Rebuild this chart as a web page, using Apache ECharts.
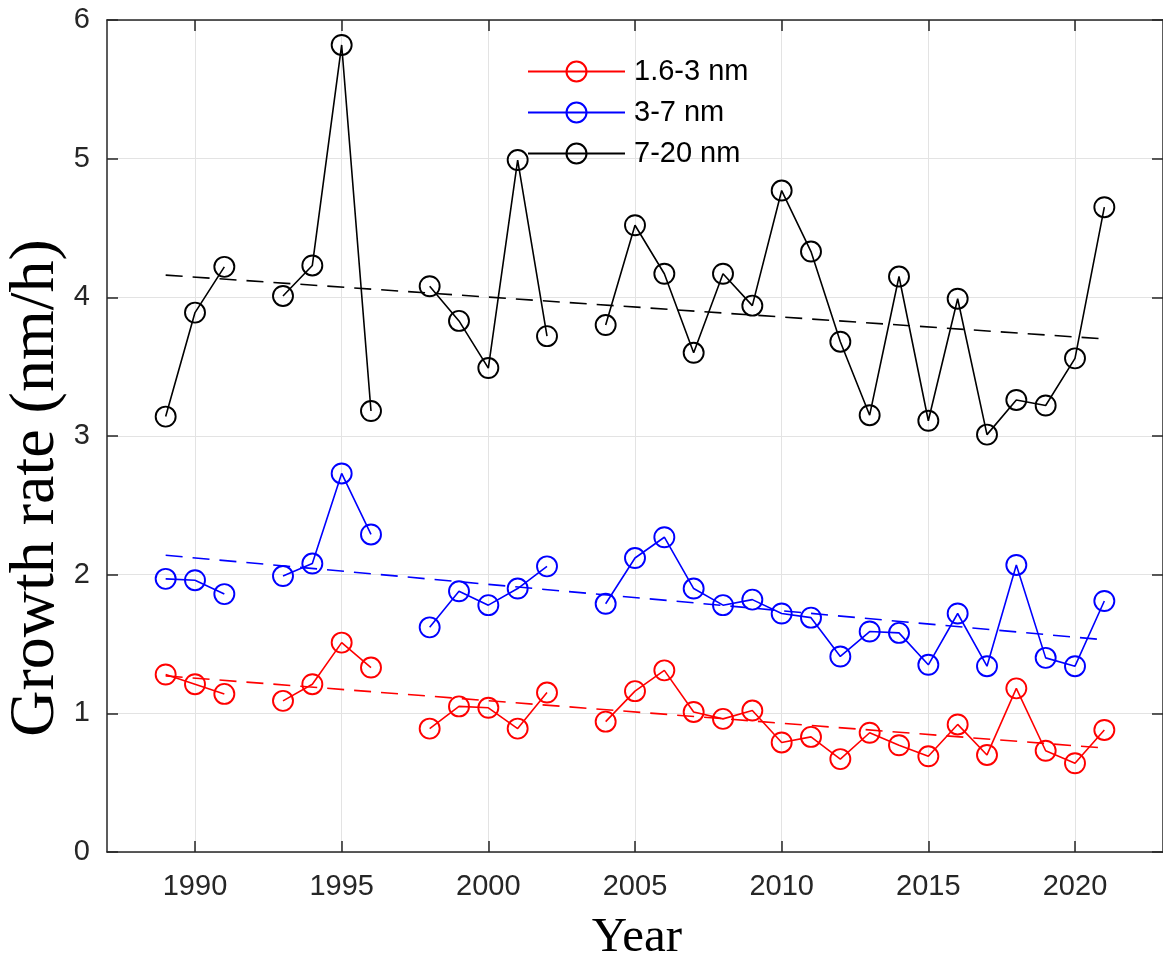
<!DOCTYPE html>
<html>
<head>
<meta charset="utf-8">
<script src="https://cdn.jsdelivr.net/npm/echarts@6/dist/echarts.min.js"></script>
<style>
  html, body { margin: 0; padding: 0; background: #fff; }
  #main { width: 1163px; height: 960px; }
</style>
</head>
<body>
<div id="main"></div>
<script>
// years 1989-2021, null = no data that year
const years = [1989, 1990, 1991, 1992, 1993, 1994, 1995, 1996, 1997, 1998, 1999, 2000,
    2001, 2002, 2003, 2004, 2005, 2006, 2007, 2008, 2009, 2010, 2011, 2012, 2013,
    2014, 2015, 2016, 2017, 2018, 2019, 2020, 2021];

const gr1_6to3 = [1.28, 1.21, 1.14, null, 1.09, 1.21, 1.51, 1.33, null, 0.89, 1.05, 1.04,
    0.89, 1.15, null, 0.94, 1.16, 1.31, 1.01, 0.96, 1.02, 0.79, 0.83, 0.67, 0.86,
    0.77, 0.69, 0.92, 0.70, 1.18, 0.73, 0.64, 0.88];

const gr3to7 = [1.97, 1.96, 1.86, null, 1.99, 2.08, 2.73, 2.29, null, 1.62, 1.88, 1.78,
    1.90, 2.06, null, 1.79, 2.12, 2.27, 1.90, 1.78, 1.82, 1.72, 1.69, 1.41, 1.59,
    1.58, 1.35, 1.72, 1.34, 2.07, 1.40, 1.34, 1.81];

const gr7to20 = [3.14, 3.89, 4.22, null, 4.01, 4.23, 5.82, 3.18, null, 4.08, 3.83, 3.49,
    4.99, 3.72, null, 3.80, 4.52, 4.17, 3.60, 4.17, 3.94, 4.77, 4.33, 3.68, 3.15,
    4.15, 3.11, 3.99, 3.01, 3.26, 3.22, 3.56, 4.65];

// linear trend end points
const trendYears = [1989, 2021];
const trend1_6to3 = [1.27, 0.75];
const trend3to7 = [2.14, 1.53];
const trend7to20 = [4.16, 3.70];

const xTicks = [1990, 1995, 2000, 2005, 2010, 2015, 2020];

const names = ['1.6-3 nm', '3-7 nm', '7-20 nm'];
const colors = ['#ff0000', '#0000ff', '#000000'];

function pairs(xs, ys) {
    return xs.map((x, i) => [x, ys[i] == null ? '-' : ys[i]]);
}

const axisColor = '#262626';
const labelFont = 'Liberation Sans, Arial, sans-serif';

function dataSeries(name, vals, color) {
    return {
        name: name,
        type: 'line',
        data: pairs(years, vals),
        connectNulls: false,
        symbol: 'circle',
        symbolSize: 20,
        showSymbol: true,
        lineStyle: { color: color, width: 1.6 },
        itemStyle: { color: 'rgba(0,0,0,0)', borderColor: color, borderWidth: 1.9 },
        emphasis: { disabled: true },
        z: 3
    };
}

function trendSeries(vals, color) {
    return {
        name: 'trend',
        type: 'line',
        data: pairs(trendYears, vals),
        symbol: 'none',
        lineStyle: { color: color, width: 1.6, type: [17, 10] },
        emphasis: { disabled: true },
        z: 2
    };
}

const xCommon = {
    type: 'value',
    min: 1987,
    max: 2023,
    axisLine: { show: true, onZero: false, lineStyle: { color: axisColor, width: 1.5 } },
    axisTick: { show: true, inside: true, length: 11, customValues: xTicks,
        lineStyle: { color: axisColor, width: 1.5 } },
    splitLine: { show: true, lineStyle: { color: '#e3e3e3', width: 1 } }
};

const yCommon = {
    type: 'value',
    min: 0,
    max: 6,
    interval: 1,
    axisLine: { show: true, onZero: false, lineStyle: { color: axisColor, width: 1.5 } },
    axisTick: { show: true, inside: true, length: 11, lineStyle: { color: axisColor, width: 1.5 } },
    splitLine: { show: true, lineStyle: { color: '#e3e3e3', width: 1 } }
};

const options = {
    animation: false,
    backgroundColor: '#ffffff',
    grid: { left: 107, top: 20, width: 1062, height: 832, containLabel: false },
    legend: {
        data: names,
        orient: 'vertical',
        left: 527,
        top: 57,
        padding: 0,
        itemWidth: 97,
        itemHeight: 25,
        itemGap: 12,
        textStyle: { fontFamily: labelFont, fontSize: 29, color: '#000', padding: [0, 0, 0, 4] }
    },
    xAxis: [
        Object.assign({}, xCommon, {
            position: 'bottom',
            axisLabel: { show: true, customValues: xTicks, margin: 20, color: axisColor,
                fontFamily: labelFont, fontSize: 29, formatter: (v) => String(v) }
        }),
        Object.assign({}, xCommon, {
            position: 'top',
            axisLabel: { show: false },
            splitLine: { show: false }
        })
    ],
    yAxis: [
        Object.assign({}, yCommon, {
            position: 'left',
            axisLabel: { show: true, margin: 17, color: axisColor,
                fontFamily: labelFont, fontSize: 29 }
        }),
        Object.assign({}, yCommon, {
            position: 'right',
            axisLabel: { show: false },
            splitLine: { show: false }
        })
    ],
    graphic: [
        {
            type: 'text',
            x: 637,
            y: 938,
            style: { text: 'Year', fontFamily: 'Liberation Serif, Times New Roman, serif',
                fontSize: 49, fill: '#000', align: 'center', verticalAlign: 'middle' }
        },
        {
            type: 'text',
            x: 36,
            y: 488,
            rotation: Math.PI / 2,
            style: { text: 'Growth rate (nm/h)', fontFamily: 'Liberation Serif, Times New Roman, serif',
                fontSize: 64, fill: '#000', align: 'center', verticalAlign: 'middle' }
        }
    ],
    series: [
        dataSeries(names[0], gr1_6to3, colors[0]),
        dataSeries(names[1], gr3to7, colors[1]),
        dataSeries(names[2], gr7to20, colors[2]),
        trendSeries(trend1_6to3, colors[0]),
        trendSeries(trend3to7, colors[1]),
        trendSeries(trend7to20, colors[2])
    ]
};

let myChart = echarts.init(document.getElementById('main'));
myChart.setOption(options);
</script>
</body>
</html>
